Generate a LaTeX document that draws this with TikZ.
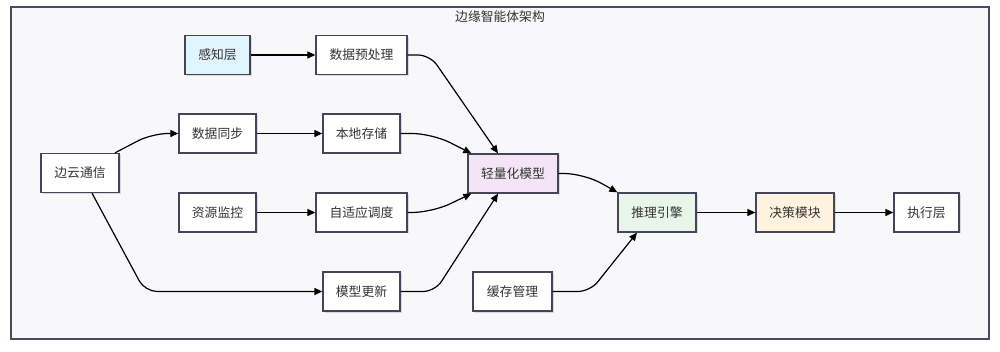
\documentclass[tikz,border=0pt]{standalone}
\usepackage{fontspec}
\newfontfamily\cjk{Noto Sans CJK SC}
\usetikzlibrary{arrows.meta,shadows,calc}
\definecolor{framefill}{HTML}{F8F8FB}
\definecolor{framedraw}{HTML}{4A4A5C}
\definecolor{boxdraw}{HTML}{454558}
\definecolor{txt}{HTML}{333333}
\definecolor{cblue}{HTML}{E1F5FE}
\definecolor{cpurple}{HTML}{F3E5F5}
\definecolor{cgreen}{HTML}{E8F5E9}
\definecolor{corange}{HTML}{FFF3E0}
\tikzset{
  box/.style={draw=boxdraw, line width=1.3pt, fill=white, minimum height=39pt,
    inner sep=0pt, font=\cjk\fontsize{12.8}{14}\selectfont, text=txt,
    drop shadow={shadow xshift=1.5pt, shadow yshift=-1.5pt, opacity=0.12, fill=black}},
  conn/.style={draw=black, line width=1.2pt, -{Triangle[length=8pt,width=7pt]}},
  curv/.style={conn, rounded corners=12pt},
}
\begin{document}
\begin{tikzpicture}[x=1pt,y=-1pt]
\useasboundingbox (0,0) rectangle (1000,352);
\fill[white] (0,0) rectangle (1000,352);
\draw[draw=framedraw, fill=framefill, line width=1.2pt] (11,7) rectangle (989,339);
\node[font=\cjk\fontsize{12.8}{14}\selectfont, text=txt] (title) at (500,17) {边缘智能体架构};

\node[box, fill=cblue, minimum width=65pt] (gz) at (217.5,55) {感知层};
\node[box, minimum width=91pt] (yc) at (361.5,55) {数据预处理};
\node[box, minimum width=77pt] (tb) at (217.5,133.5) {数据同步};
\node[box, minimum width=77pt] (cc) at (361.5,133.5) {本地存储};
\node[box, minimum width=78pt] (by) at (80,173) {边云通信};
\node[box, minimum width=77pt] (jk) at (217.5,212.5) {资源监控};
\node[box, minimum width=91pt] (dd) at (361.5,212.5) {自适应调度};
\node[box, minimum width=77pt] (gx) at (361.5,291.5) {模型更新};
\node[box, fill=cpurple, minimum width=90pt] (qm) at (513,173.5) {轻量化模型};
\node[box, fill=cgreen, minimum width=78pt] (tl) at (657,212.5) {推理引擎};
\node[box, fill=corange, minimum width=78pt] (jc) at (795,212.5) {决策模块};
\node[box, minimum width=65pt] (zx) at (926.5,212.5) {执行层};
\node[box, minimum width=79pt] (hc) at (512.5,291.5) {缓存管理};

\draw[conn] (gz) -- (yc);
\draw[conn] (tb) -- (cc);
\draw[conn] (jk) -- (dd);
\draw[conn] (tl) -- (jc);
\draw[conn] (jc) -- (zx);

\draw[curv] (yc.east) -- (430,55) -- ([xshift=-15pt]qm.north);
\draw[curv, rounded corners=20pt] (cc.east) -- (432,133.5) -- ([xshift=4pt]qm.north west);
\draw[curv, rounded corners=20pt] (dd.east) -- (432,212.5) -- ([xshift=4pt]qm.south west);
\draw[curv] (gx.east) -- (435,291.5) -- ([xshift=-15pt]qm.south);
\draw[curv, rounded corners=16pt] ([xshift=35pt]by.north) -- (152,133.5) -- (tb.west);
\draw[curv] ([xshift=12pt]by.south) -- (145,291.5) -- (gx.west);
\draw[curv, rounded corners=20pt] (qm.east) -- (584,173.5) -- (tl.north west);
\draw[curv] (hc.east) -- (590,291.5) -- ([xshift=-20pt]tl.south);
\end{tikzpicture}
\end{document}
